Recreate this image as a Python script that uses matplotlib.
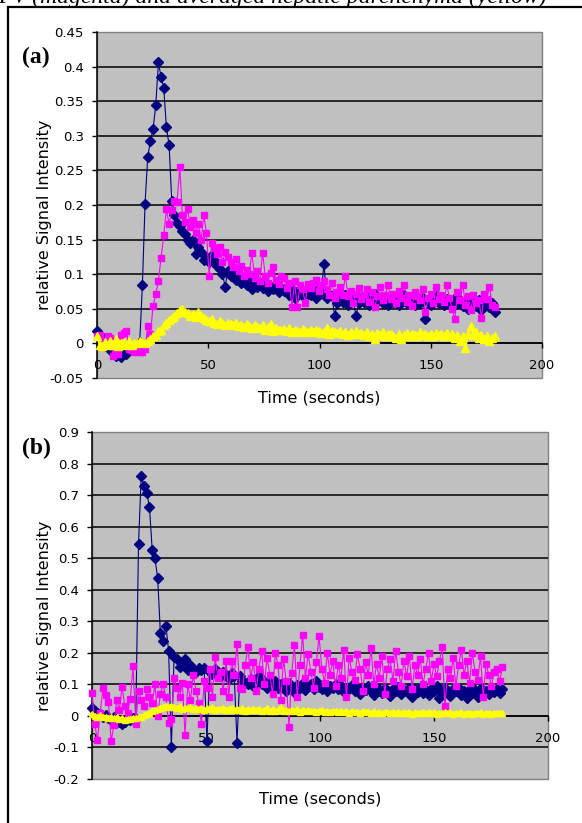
import numpy as np
import matplotlib
matplotlib.use("Agg")
import matplotlib.pyplot as plt
from matplotlib.lines import Line2D
from matplotlib.patches import Rectangle
from matplotlib.ticker import FixedLocator, FuncFormatter

plt.rcParams['font.family'] = ['DejaVu Sans']

# ---------------- data: panel (a) ----------------
time_a = np.arange(150) * 1.2
aorta_a = [
    0.018, 0.012, 0.008, 0.003, -0.004, -0.010, -0.008, -0.018, -0.014, -0.020,
    -0.012, -0.015, -0.008, -0.010, -0.004, -0.006, 0.002, 0.084, 0.202, 0.270,
    0.292, 0.310, 0.344, 0.406, 0.385, 0.369, 0.312, 0.287, 0.206, 0.185,
    0.174, 0.170, 0.162, 0.158, 0.150, 0.145, 0.150, 0.129, 0.140, 0.132,
    0.120, 0.125, 0.118, 0.128, 0.120, 0.112, 0.108, 0.100, 0.082, 0.105,
    0.098, 0.100, 0.092, 0.096, 0.088, 0.094, 0.085, 0.090, 0.079, 0.086,
    0.082, 0.088, 0.080, 0.084, 0.076, 0.082, 0.078, 0.086, 0.074, 0.080,
    0.076, 0.082, 0.070, 0.078, 0.066, 0.074, 0.079, 0.068, 0.075, 0.072,
    0.070, 0.078, 0.066, 0.080, 0.074, 0.115, 0.066, 0.072, 0.068, 0.040,
    0.058, 0.066, 0.060, 0.070, 0.056, 0.064, 0.062, 0.040, 0.058, 0.066,
    0.060, 0.068, 0.056, 0.064, 0.072, 0.060, 0.066, 0.058, 0.062, 0.055,
    0.064, 0.060, 0.068, 0.056, 0.062, 0.070, 0.058, 0.064, 0.060, 0.056,
    0.062, 0.058, 0.066, 0.035, 0.060, 0.056, 0.064, 0.070, 0.058, 0.062,
    0.056, 0.064, 0.060, 0.052, 0.066, 0.058, 0.062, 0.054, 0.060, 0.050,
    0.058, 0.064, 0.054, 0.062, 0.048, 0.060, 0.056, 0.052, 0.058, 0.046,
]
pv_a = [
    0.010, 0.012, 0.004, -0.002, 0.010, 0.008, -0.018, -0.012, -0.016, 0.012,
    0.015, 0.018, -0.008, -0.010, -0.012, -0.010, -0.012, -0.013, -0.008, 0.025,
    0.014, 0.054, 0.071, 0.090, 0.124, 0.156, 0.194, 0.172, 0.193, 0.206,
    0.205, 0.255, 0.185, 0.175, 0.194, 0.168, 0.178, 0.160, 0.172, 0.150,
    0.185, 0.160, 0.098, 0.145, 0.138, 0.129, 0.140, 0.118, 0.132, 0.125,
    0.118, 0.110, 0.122, 0.104, 0.112, 0.098, 0.106, 0.100, 0.131, 0.095,
    0.104, 0.090, 0.131, 0.098, 0.088, 0.102, 0.111, 0.092, 0.086, 0.098,
    0.094, 0.080, 0.088, 0.052, 0.090, 0.052, 0.084, 0.078, 0.058, 0.086,
    0.080, 0.088, 0.092, 0.076, 0.084, 0.090, 0.078, 0.070, 0.088, 0.066,
    0.075, 0.082, 0.070, 0.098, 0.068, 0.076, 0.058, 0.072, 0.080, 0.064,
    0.070, 0.078, 0.060, 0.074, 0.052, 0.068, 0.082, 0.062, 0.070, 0.085,
    0.064, 0.072, 0.058, 0.076, 0.066, 0.084, 0.060, 0.070, 0.054, 0.074,
    0.068, 0.062, 0.078, 0.045, 0.066, 0.072, 0.058, 0.082, 0.064, 0.070,
    0.060, 0.085, 0.066, 0.050, 0.035, 0.074, 0.062, 0.085, 0.056, 0.068,
    0.048, 0.070, 0.058, 0.062, 0.037, 0.072, 0.064, 0.082, 0.056, 0.052,
]
liver_a = [
    0.010, -0.002, -0.004, 0.002, -0.003, 0.004, -0.002, 0.006, -0.004, 0.000,
    0.002, -0.003, 0.003, -0.002, 0.001, 0.000, 0.003, 0.002, 0.000, 0.004,
    0.006, 0.010, 0.012, 0.018, 0.020, 0.026, 0.030, 0.034, 0.036, 0.040,
    0.044, 0.048, 0.050, 0.046, 0.044, 0.040, 0.042, 0.038, 0.046, 0.040,
    0.036, 0.034, 0.032, 0.035, 0.030, 0.028, 0.032, 0.030, 0.027, 0.030,
    0.028, 0.026, 0.030, 0.025, 0.027, 0.024, 0.028, 0.025, 0.022, 0.026,
    0.024, 0.022, 0.026, 0.020, 0.023, 0.028, 0.018, 0.022, 0.020, 0.019,
    0.021, 0.018, 0.022, 0.017, 0.020, 0.018, 0.016, 0.021, 0.018, 0.017,
    0.019, 0.016, 0.020, 0.018, 0.015, 0.017, 0.022, 0.014, 0.018, 0.016,
    0.015, 0.018, 0.014, 0.017, 0.012, 0.016, 0.014, 0.018, 0.013, 0.015,
    0.012, 0.016, 0.010, 0.014, 0.006, 0.015, 0.012, 0.016, 0.011, 0.013,
    0.014, 0.010, 0.008, 0.013, 0.006, 0.012, 0.015, 0.011, 0.014, 0.012,
    0.010, 0.016, 0.012, 0.014, 0.011, 0.013, 0.010, 0.015, 0.012, 0.014,
    0.011, 0.015, 0.010, 0.013, 0.008, 0.012, 0.004, 0.010, -0.006, 0.014,
    0.025, 0.012, 0.016, 0.008, 0.012, 0.006, 0.010, 0.004, 0.008, 0.010,
]

# ---------------- data: panel (b) ----------------
time_b = np.arange(151) * 1.2
aorta_b = [
    0.024, 0.017, 0.010, 0.005, -0.005, 0.002, -0.008, -0.012, -0.004, -0.015,
    -0.020, -0.026, -0.018, -0.010, -0.014, -0.008, -0.010, 0.545, 0.762, 0.730,
    0.707, 0.663, 0.527, 0.500, 0.437, 0.262, 0.238, 0.286, 0.207, -0.100,
    0.188, 0.180, 0.155, 0.170, 0.180, 0.144, 0.160, 0.150, 0.138, 0.152,
    0.145, 0.152, -0.080, 0.140, 0.132, 0.148, 0.138, 0.127, 0.140, 0.130,
    0.118, 0.135, 0.125, -0.085, 0.125, 0.112, 0.104, 0.100, 0.118, 0.095,
    0.108, 0.125, 0.100, 0.112, 0.090, 0.104, 0.096, 0.110, 0.088, 0.100,
    0.092, 0.080, 0.104, 0.086, 0.075, 0.098, 0.090, 0.105, 0.082, 0.094,
    0.100, 0.086, 0.110, 0.092, 0.084, 0.098, 0.078, 0.094, 0.088, 0.100,
    0.084, 0.096, 0.076, 0.090, 0.086, 0.098, 0.080, 0.092, 0.070, 0.088,
    0.082, 0.095, 0.078, 0.066, 0.090, 0.084, 0.072, 0.088, 0.080, 0.062,
    0.086, 0.078, 0.092, 0.070, 0.082, 0.075, 0.088, 0.060, 0.084, 0.076,
    0.090, 0.072, 0.082, 0.066, 0.086, 0.078, 0.094, 0.056, 0.080, 0.088,
    0.074, 0.062, 0.084, 0.078, 0.090, 0.066, 0.080, 0.058, 0.086, 0.072,
    0.082, 0.060, 0.088, 0.074, 0.080, 0.068, 0.090, 0.076, 0.084, 0.072,
    0.086,
]
pv_b = [
    0.072, -0.025, -0.077, 0.010, 0.088, 0.065, 0.045, -0.080, -0.030, 0.050,
    0.020, 0.093, 0.030, 0.010, 0.055, 0.157, -0.025, 0.080, 0.050, 0.030,
    0.085, 0.060, 0.040, 0.100, 0.000, 0.070, 0.100, 0.060, -0.023, -0.010,
    0.120, 0.090, 0.060, 0.105, -0.060, 0.100, 0.050, 0.130, 0.080, 0.040,
    -0.025, 0.110, 0.090, 0.150, 0.060, 0.188, 0.120, 0.140, 0.080, 0.175,
    0.060, 0.175, 0.130, 0.228, 0.090, 0.085, 0.160, 0.220, 0.120, 0.170,
    0.080, 0.150, 0.205, 0.100, 0.185, 0.130, 0.070, 0.200, 0.160, 0.050,
    0.180, 0.110, -0.034, 0.135, 0.225, 0.060, 0.160, 0.257, 0.120, 0.195,
    0.140, 0.090, 0.170, 0.252, 0.150, 0.105, 0.200, 0.130, 0.175, 0.095,
    0.160, 0.120, 0.210, 0.060, 0.185, 0.140, 0.115, 0.195, 0.150, 0.080,
    0.170, 0.130, 0.215, 0.100, 0.165, 0.120, 0.190, 0.070, 0.150, 0.180,
    0.110, 0.205, 0.140, 0.095, 0.175, 0.125, 0.190, 0.085, 0.160, 0.130,
    0.180, 0.100, 0.150, 0.200, 0.110, 0.165, 0.125, 0.175, 0.217, 0.030,
    0.150, 0.120, 0.185, 0.095, 0.160, 0.210, 0.130, 0.175, 0.105, 0.200,
    0.140, 0.115, 0.190, 0.060, 0.165, 0.130, 0.095, 0.140, 0.150, 0.110,
    0.155,
]
liver_b = [
    0.005, 0.000, -0.003, 0.002, -0.004, -0.002, -0.006, -0.004, -0.008, -0.005,
    -0.010, -0.007, -0.012, -0.009, -0.010, -0.006, -0.008, -0.004, -0.002, 0.002,
    0.005, 0.010, 0.014, 0.018, 0.022, 0.025, 0.028, 0.030, 0.027, 0.032,
    0.028, 0.025, 0.030, 0.022, 0.026, 0.024, 0.028, 0.021, 0.025, 0.023,
    0.026, 0.020, 0.024, 0.022, 0.027, 0.019, 0.023, 0.021, 0.025, 0.020,
    0.022, 0.026, 0.018, 0.023, 0.020, 0.024, 0.017, 0.022, 0.019, 0.023,
    0.018, 0.022, 0.016, 0.020, 0.024, 0.017, 0.021, 0.015, 0.019, 0.028,
    0.016, 0.020, 0.014, 0.018, 0.017, 0.021, 0.013, 0.019, 0.015, 0.018,
    0.014, 0.017, 0.012, 0.016, 0.019, 0.013, 0.015, 0.011, 0.016, 0.014,
    0.012, 0.016, 0.011, 0.014, 0.010, 0.015, 0.012, 0.013, 0.009, 0.014,
    0.011, 0.013, 0.009, 0.014, 0.010, 0.012, 0.008, 0.013, 0.011, 0.010,
    0.012, 0.009, 0.013, 0.008, 0.011, 0.010, 0.012, 0.007, 0.011, 0.009,
    0.010, 0.012, 0.008, 0.011, 0.009, 0.012, 0.007, 0.010, 0.008, 0.011,
    0.009, 0.011, 0.007, 0.010, 0.008, 0.011, 0.006, 0.009, 0.010, 0.007,
    0.010, 0.008, 0.011, 0.006, 0.009, 0.010, 0.007, 0.009, 0.008, 0.010,
    0.008,
]

x_ticks = [0, 50, 100, 150, 200]
y_ticks_a = [-0.05, 0, 0.05, 0.1, 0.15, 0.2, 0.25, 0.3, 0.35, 0.4, 0.45]
y_ticks_b = [-0.2, -0.1, 0, 0.1, 0.2, 0.3, 0.4, 0.5, 0.6, 0.7, 0.8, 0.9]
panel_labels = ["(a)", "(b)"]
x_label = "Time (seconds)"
y_label = "relative Signal Intensity"
caption = "PV (magenta) and averaged hepatic parenchyma (yellow)"

# ---------------- figure ----------------
W, H = 582, 823
fig = plt.figure(figsize=(W / 100, H / 100), dpi=100)
fig.patch.set_facecolor("white")


def fx(px):
    return px / W


def fy(py):
    return 1 - py / H


def make_panel(rect_px, t, s_aorta, s_pv, s_liver, yticks, letter, letter_xy,
               ylab_x, liver_lw, liver_ms):
    x0, y0, x1, y1 = rect_px
    ax = fig.add_axes([fx(x0), fy(y1), (x1 - x0) / W, (y1 - y0) / H])
    ax.set_facecolor("#C0C0C0")
    ax.set_xlim(0, 200)
    ax.set_ylim(yticks[0], yticks[-1])
    ax.yaxis.set_major_locator(FixedLocator(yticks))
    ax.xaxis.set_major_locator(FixedLocator(x_ticks))
    ax.yaxis.set_major_formatter(FuncFormatter(lambda v, p: ("%g" % round(v, 3))))
    ax.xaxis.set_major_formatter(FuncFormatter(lambda v, p: "%d" % v))
    for yv in yticks[1:-1]:
        ax.axhline(yv, color="black", lw=1.1, zorder=1)
    for s in ("top", "right"):
        ax.spines[s].set_visible(False)
    ax.spines["bottom"].set_position(("data", 0))
    ax.spines["bottom"].set_color("black")
    ax.spines["bottom"].set_linewidth(1.1)
    ax.spines["left"].set_color("black")
    ax.spines["left"].set_linewidth(1.1)
    ax.add_patch(Rectangle((0, 0), 1, 1, transform=ax.transAxes, fill=False,
                           edgecolor="#808080", lw=1.0, zorder=0.5, clip_on=False))
    ax.tick_params(axis="y", direction="out", length=3.5, width=1, pad=6,
                   labelsize=9.5, colors="black")
    ax.tick_params(axis="x", direction="out", length=3.5, width=1, pad=8,
                   labelsize=9.5, colors="black")
    ax.plot(t, s_aorta, color="#000080", lw=0.8, marker="D", ms=4.6,
            mfc="#000080", mec="#000080", zorder=3, clip_on=False)
    ax.plot(t, s_pv, color="#FF00FF", lw=0.8, marker="s", ms=4.6,
            mfc="#FF00FF", mec="#FF00FF", zorder=4, clip_on=False)
    ax.plot(t, s_liver, color="#FFFF00", lw=liver_lw, marker="^", ms=liver_ms,
            mfc="#FFFF00", mec="#FFFF00", zorder=5, clip_on=False)
    ax.text(0.5, -(20 / (y1 - y0)), x_label, transform=ax.transAxes,
            ha="center", va="center", fontsize=11.5)
    fig.text(fx(ylab_x), fy((y0 + y1) / 2 + 10), y_label, rotation=90,
             ha="center", va="center", fontsize=11.5)
    fig.text(fx(letter_xy[0]), fy(letter_xy[1]), letter, ha="center", va="center",
             fontsize=17, fontweight="bold", family="Liberation Serif")
    return ax


make_panel((97, 32, 542, 378), time_a, aorta_a, pv_a, liver_a, y_ticks_a,
           panel_labels[0], (36, 57), 45, 1.5, 5.6)
make_panel((92, 432, 548, 779), time_b, aorta_b, pv_b, liver_b, y_ticks_b,
           panel_labels[1], (36, 448), 45, 2.6, 4.6)

# page frame and cut-off caption (cut off at the top edge, as in the source page)
fig.add_artist(Line2D([fx(8), fx(8)], [fy(7), 0], color="black", lw=1.6))
fig.add_artist(Line2D([fx(8), 1], [fy(7), fy(7)], color="black", lw=1.6))
fig.text(fx(-2), fy(3), caption, ha="left", va="baseline", fontsize=17,
         style="italic", family="Liberation Serif")

fig.savefig("out.png", dpi=100)
